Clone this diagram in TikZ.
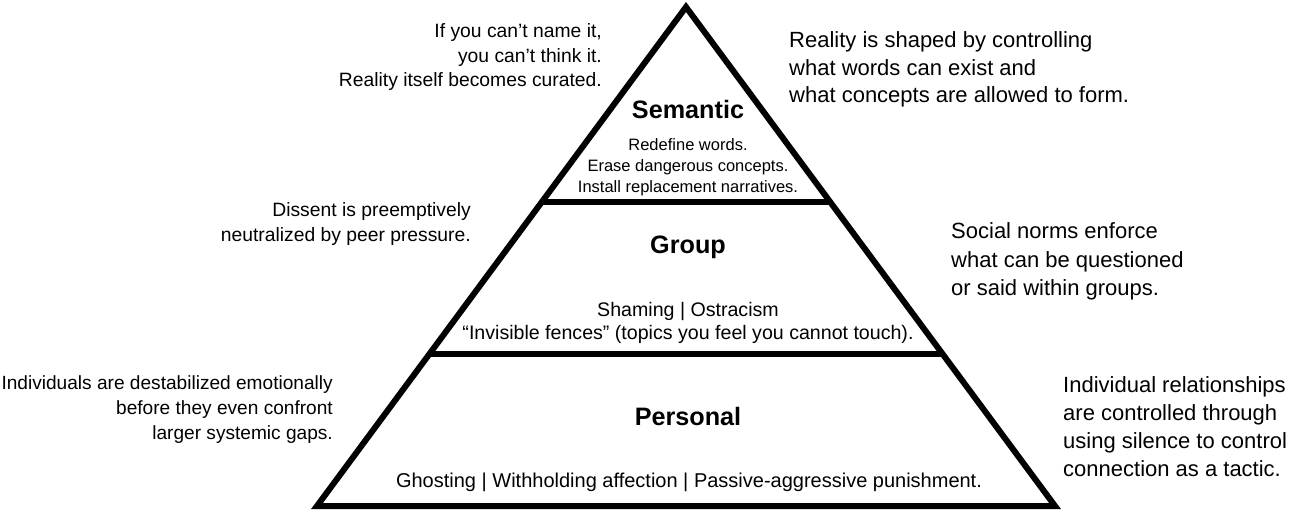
\documentclass[tikz,border=0pt]{standalone}
\usepackage{fontspec}
\setmainfont{Liberation Sans}
\usetikzlibrary{calc}
\begin{document}
\begin{tikzpicture}[x=1pt,y=-1pt,
  side/.style={inner sep=0pt, align=right, anchor=east, font=\fontsize{19.3}{24.5}\selectfont},
  sideR/.style={inner sep=0pt, align=left, anchor=west, font=\fontsize{22}{27.8}\selectfont},
  title/.style={inner sep=0pt, font=\fontsize{25.2}{28}\selectfont\bfseries},
  inner/.style={inner sep=0pt, align=center, font=\fontsize{19.6}{23}\selectfont},
  frame/.style={line width=6pt, line join=miter}]
\useasboundingbox (0,0) rectangle (1292,510);
\fill[white] (0,0) rectangle (1292,510);
\coordinate (apex) at (686,7);
\coordinate (bl) at (317,506);
\coordinate (br) at (1055,506);
\draw[frame] (apex) -- (bl) -- (br) -- cycle;
\coordinate (d1l) at ($(apex)!0.3898!(bl)$);
\coordinate (d1r) at ($(apex)!0.3898!(br)$);
\coordinate (d2l) at ($(apex)!0.6944!(bl)$);
\coordinate (d2r) at ($(apex)!0.6944!(br)$);
\draw[frame] (d1l) -- (d1r);
\draw[frame] (d2l) -- (d2r);

\node[side] (tl) at (602,57.5) {If you can’t name it,\\you can’t think it.\\Reality itself becomes curated.};
\node[sideR] (tr) at (789,69.5) {Reality is shaped by controlling\\what words can exist and\\what concepts are allowed to form.};
\node[title] (sem) at (688,109) {Semantic};
\node[inner, font=\fontsize{16.5}{20.8}\selectfont] (semsub) at (688,167) {Redefine words.\\Erase dangerous concepts.\\Install replacement narratives.};

\node[side] (ml) at (471,224) {Dissent is preemptively\\neutralized by peer pressure.};
\node[title] (grp) at (688,247) {Group};
\node[sideR, font=\fontsize{22}{28.5}\selectfont] (mr) at (951,261.5) {Social norms enforce\\what can be questioned\\or said within groups.};
\node[inner] (grpsub) at (688,322.5) {Shaming | Ostracism\\“Invisible fences” (topics you feel you cannot touch).};

\node[side, font=\fontsize{19.1}{25}\selectfont] (bll) at (333,410) {Individuals are destabilized emotionally\\before they even confront\\larger systemic gaps.};
\node[title] (per) at (688,416) {Personal};
\node[sideR, font=\fontsize{22}{28}\selectfont] (brr) at (1063,427) {Individual relationships\\are controlled through\\using silence to control\\connection as a tactic.};
\node[inner, font=\fontsize{20}{23}\selectfont] (persub) at (689,482.5) {Ghosting | Withholding affection | Passive-aggressive punishment.};
\end{tikzpicture}
\end{document}
